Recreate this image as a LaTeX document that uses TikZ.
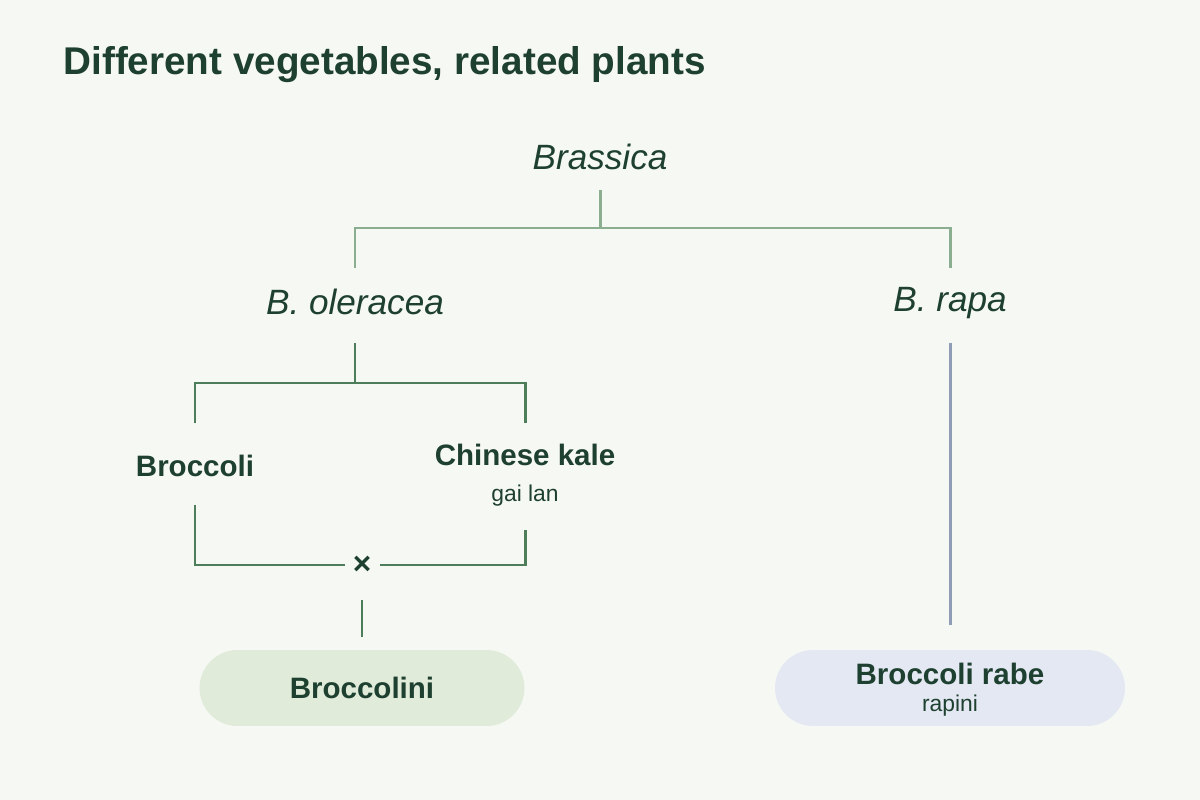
\documentclass[tikz,border=0pt]{standalone}
\usepackage{fontspec}
\setmainfont{Liberation Sans}
\definecolor{bgc}{HTML}{F6F8F3}
\definecolor{ink}{HTML}{1E4030}
\definecolor{topline}{HTML}{8AAE8F}
\definecolor{midline}{HTML}{4E7D5A}
\definecolor{blueline}{HTML}{8E9DB5}
\definecolor{greenpill}{HTML}{E1EBD9}
\definecolor{bluepill}{HTML}{E3E8F2}
\tikzset{
  taxon/.style={font=\fontsize{20}{24}\selectfont\itshape, text=ink},
  crop/.style={font=\fontsize{16.8}{20}\selectfont\bfseries, text=ink},
  alias/.style={font=\fontsize{13}{15}\selectfont, text=ink},
  pill/.style={rounded corners=0.76cm, minimum width=6.5cm, minimum height=1.52cm},
}
\begin{document}
\begin{tikzpicture}[x=0.02cm, y=-0.02cm, line width=1.7pt]
  \fill[bgc] (0,0) rectangle (1200,800);
  \node[anchor=west, inner sep=0pt, font=\fontsize{22}{26}\selectfont\bfseries, text=ink] (title) at (62,65) {Different vegetables, related plants};

  \node[taxon] (genus) at (600,157) {Brassica};
  \node[taxon] (oler) at (355,302) {B. oleracea};
  \node[taxon] (rapa) at (950,302) {B.\vphantom{l} rapa};

  \node[crop] (brocc) at (195,466) {Broccoli};
  \node[crop] (kale) at (525,455) {Chinese kale};
  \node[alias] (gailan) at (525,496) {gai lan};
  \node[font=\fontsize{18}{20}\selectfont\bfseries, text=ink, inner sep=1pt] (cross) at (362,565) {×};

  \node[pill, fill=greenpill] (broccolini) at (362,688) {};
  \node[crop] at (broccolini) {Broccolini};
  \node[pill, fill=bluepill, minimum width=7cm] (rabe) at (950,688) {};
  \node[crop] (rabename) at (950,674) {Broccoli rabe};
  \node[alias] (rapini) at (950,706) {rapini};

  % genus split
  \coordinate (g1) at (600,190);
  \coordinate (g2) at (600,228);
  \coordinate (o1) at (355,268);
  \coordinate (r1) at (950,268);
  \draw[topline] (g1) -- (g2) (o1) |- (g2) -| (r1);

  % oleracea split
  \coordinate (s1) at (355,343);
  \coordinate (s2) at (355,383);
  \coordinate (b1) at (195,423);
  \coordinate (k1) at (525,423);
  \draw[midline] (s1) -- (s2) (b1) |- (s2) -| (k1);

  % cross
  \coordinate (b2) at (195,505);
  \coordinate (k2) at (525,530);
  \coordinate (c1) at (362,600);
  \coordinate (c2) at (362,637);
  \coordinate (xl) at (345,565);
  \coordinate (xr) at (380,565);
  \draw[midline] (b2) |- (xl);
  \draw[midline] (k2) |- (xr);
  \draw[midline] (c1) -- (c2);

  % rapa line
  \coordinate (r2) at (950,343);
  \coordinate (r3) at (950,625);
  \draw[blueline] (r2) -- (r3);
\end{tikzpicture}
\end{document}
